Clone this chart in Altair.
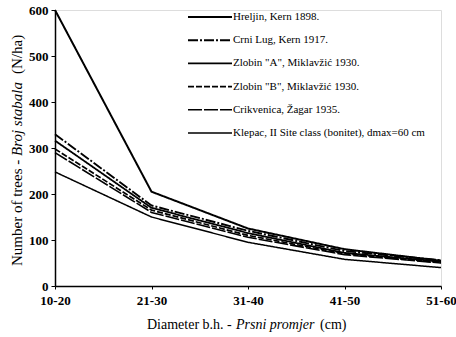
import altair as alt
import pandas as pd

# Diameter classes (breast height, cm)
classes = ["10-20", "21-30", "31-40", "41-50", "51-60"]

# Number of trees per hectare in each diameter class
series_names = [
    "Hreljin, Kern 1898.",
    "Crni Lug, Kern 1917.",
    "Zlobin \"A\", Miklavžić 1930.",
    "Zlobin \"B\", Miklavžić 1930.",
    "Crikvenica, Žagar 1935.",
    "Klepac, II Site class (bonitet), dmax=60 cm",
]
hreljin = [600, 205, 125, 80, 55]
crni_lug = [330, 175, 120, 76, 56]
zlobin_a = [316, 170, 115, 72, 53]
zlobin_b = [298, 165, 110, 70, 51]
crikvenica = [290, 160, 106, 68, 50]
klepac = [248, 150, 95, 58, 40]

all_values = [hreljin, crni_lug, zlobin_a, zlobin_b, crikvenica, klepac]

rows = []
for name, vals in zip(series_names, all_values):
    for c, v in zip(classes, vals):
        rows.append({"series": name, "diameter": c, "trees": v})
df = pd.DataFrame(rows)

FONT = "Liberation Serif"
W, H = 386, 276

dashes = [[1, 0], [10, 2, 2, 2], [1, 0], [6, 2], [14, 2], [1, 0]]
widths = [2.0, 1.5, 1.0, 1.3, 2.2, 1.6]

color_enc = alt.Color(
    "series:N", sort=series_names,
    scale=alt.Scale(domain=series_names, range=["black"] * 6), legend=None,
)
dash_enc = alt.StrokeDash(
    "series:N", sort=series_names,
    scale=alt.Scale(domain=series_names, range=dashes), legend=None,
)
width_enc = alt.StrokeWidth(
    "series:N", sort=series_names,
    scale=alt.Scale(domain=series_names, range=widths), legend=None,
)

lines = alt.Chart(df).mark_line(clip=False).encode(
    x=alt.X(
        "diameter:N",
        sort=classes,
        scale=alt.Scale(type="point", padding=0),
        axis=alt.Axis(
            title=None, labelAngle=0, labelFont=FONT, labelFontSize=13,
            labelFontWeight="bold", labelColor="black", labelPadding=5,
            domainColor="black", domainWidth=1.5, tickColor="black",
            tickSize=3, grid=False,
        ),
    ),
    y=alt.Y(
        "trees:Q",
        scale=alt.Scale(domain=[0, 600], nice=False),
        axis=alt.Axis(
            title=None, values=[0, 100, 200, 300, 400, 500, 600],
            labelFont=FONT, labelFontSize=13, labelFontWeight="bold",
            labelColor="black", labelPadding=3, domainColor="black",
            domainWidth=1.5, tickColor="black", tickSize=4, grid=False,
        ),
    ),
    color=color_enc,
    strokeDash=dash_enc,
    strokeWidth=width_enc,
    detail="series:N",
)

# Key in the upper right of the plot: one sample line and name per series
key_df = pd.DataFrame({"series": series_names})
key_base = alt.Chart(key_df).encode(
    y=alt.Y(
        "series:N", sort=series_names, axis=None,
        scale=alt.Scale(type="point", padding=0, domain=series_names,
                        range=[7, 123]),
    ),
)
key_lines = key_base.mark_rule().encode(
    x=alt.value(133), x2=alt.value(177),
    color=color_enc, strokeDash=dash_enc, strokeWidth=width_enc,
)
key_text = key_base.mark_text(
    align="left", baseline="middle", font=FONT, fontSize=11, color="black",
).encode(x=alt.value(178), text="series:N")

one = pd.DataFrame({"k": [0]})


def label(text, x, y, size, italic=False, angle=0):
    return alt.Chart(one).mark_text(
        text=text, font=FONT, fontSize=size, color="black", align="left",
        baseline="middle", angle=angle,
        fontStyle="italic" if italic else "normal",
    ).encode(x=alt.value(x), y=alt.value(y))


# x-axis title with italic Croatian part
xt_y = 315
x_title = [
    label("Diameter b.h. - ", 92, xt_y, 14),
    label("Prsni promjer", 92 + 89, xt_y, 14, italic=True),
    label("(cm)", 92 + 89 + 84, xt_y, 14),
]

# rotated y-axis title with italic Croatian part
yt_x = -38
y0 = 256
y_title = [
    label("Number of trees - ", yt_x, y0, 15, angle=270),
    label("Broj stabala", yt_x, y0 - 110, 15, italic=True, angle=270),
    label("(N/ha)", yt_x, y0 - 110 - 82, 15, angle=270),
]

chart = alt.layer(
    lines, key_lines, key_text, *x_title, *y_title
).resolve_scale(y="independent").properties(
    width=W, height=H, autosize="none",
    padding={"left": 55, "top": 10, "right": 15, "bottom": 51},
).configure_view(stroke=None).configure(background="white")

chart.save("out.html", embed_options={"renderer": "svg", "actions": False})
